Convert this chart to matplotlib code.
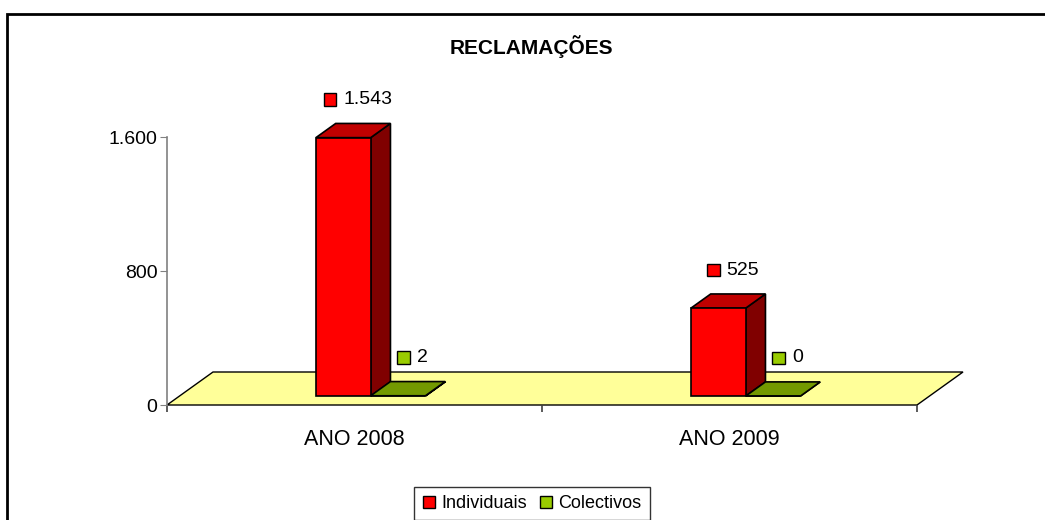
import matplotlib
matplotlib.use("Agg")
import matplotlib.pyplot as plt
from matplotlib.patches import Polygon, Rectangle
from matplotlib.lines import Line2D
from matplotlib.ticker import FuncFormatter
from matplotlib.offsetbox import AnnotationBbox, DrawingArea, TextArea, HPacker

plt.rcParams['font.family'] = ['Liberation Sans', 'DejaVu Sans']

# data
categories = ["ANO 2008", "ANO 2009"]
series_names = ["Individuais", "Colectivos"]
individuais = [1543, 525]
colectivos = [2, 0]
y_ticks = [0, 800, 1600]

front_colors = ["#FF0000", "#99CC00"]
top_colors = ["#C00000", "#739900"]
side_colors = ["#800000", "#4D6600"]

W, H = 1045, 520
fig = plt.figure(figsize=(W / 100, H / 100), dpi=100)

# axes frame (pixels of the reference)
x0, x1, y0, y1 = 167, 917, 405, 137
ax = fig.add_axes([x0 / W, 1 - y0 / H, (x1 - x0) / W, (y0 - y1) / H])
ax.set_xlim(0, len(categories))
ax.set_ylim(0, 1600)

# pixel -> data scale, used for the oblique 3d depth
px_x = len(categories) / (x1 - x0)
px_y = 1600 / (y0 - y1)
depth = (46 * px_x, 33 * px_y)   # full floor depth

def shift(p, d):
    return (p[0] + depth[0] * d, p[1] + depth[1] * d)

# floor
floor = [(0, 0), (2, 0), shift((2, 0), 1), shift((0, 0), 1)]
ax.add_patch(Polygon(floor, closed=True, facecolor="#FFFF99", edgecolor="black",
                     lw=1, clip_on=False, zorder=1))

bar_w = 0.146
d_front, d_back = 0.27, 0.70

def box(xl, val, i):
    xr = xl + bar_w
    fb = [shift(p, d_front) for p in [(xl, 0), (xr, 0), (xr, val), (xl, val)]]
    top = [shift((xl, val), d_front), shift((xr, val), d_front),
           shift((xr, val), d_back), shift((xl, val), d_back)]
    side = [shift((xr, 0), d_front), shift((xr, 0), d_back),
            shift((xr, val), d_back), shift((xr, val), d_front)]
    kw = dict(closed=True, edgecolor="black", lw=1.2, clip_on=False, zorder=3)
    ax.add_patch(Polygon(side, facecolor=side_colors[i], **kw))
    ax.add_patch(Polygon(top, facecolor=top_colors[i], **kw))
    ax.add_patch(Polygon(fb, facecolor=front_colors[i], **kw))

def label(xc, val, i, text):
    # value label with legend key, centred above the bar top
    anchor = shift((xc, val), (d_front + d_back) / 2)
    key = DrawingArea(10, 10, 0, 0)
    key.add_artist(Rectangle((0.4, 0.4), 9.2, 9.2, facecolor=front_colors[i],
                             edgecolor="black", lw=1))
    txt = TextArea(text, textprops=dict(fontsize=14))
    pack = HPacker(children=[key, txt], sep=4.5, align='center', pad=0)
    ab = AnnotationBbox(pack, anchor, xybox=(4.5, 31), boxcoords='offset pixels',
                        frameon=False, box_alignment=(0.5, 0.5), annotation_clip=False,
                        zorder=5)
    ax.add_artist(ab)

def fmt(v):
    return f"{v:,.0f}".replace(",", ".")

off = 0.01
for k in range(len(categories)):
    box(k + 0.5 - bar_w + off, individuais[k], 0)
    box(k + 0.5 + off, colectivos[k], 1)
    label(k + 0.5 - bar_w / 2 + off, individuais[k], 0, fmt(individuais[k]))
    label(k + 0.5 + bar_w / 2 + off, colectivos[k], 1, fmt(colectivos[k]))

# axes styling
for s in ["top", "right", "bottom"]:
    ax.spines[s].set_visible(False)
ax.spines["left"].set_color("#808080")
ax.spines["left"].set_linewidth(1.2)
ax.set_yticks(y_ticks)
ax.yaxis.set_major_formatter(FuncFormatter(lambda v, p: fmt(v)))
ax.tick_params(axis='y', length=5, color="#808080", labelsize=14, pad=2)
ax.set_xticks([0, 1, 2])
ax.set_xticklabels([])
ax.tick_params(axis='x', length=5, color="#404040", width=1.2)
ax.set_xticks([k + 0.5 for k in range(len(categories))], minor=True)
ax.set_xticklabels(categories, minor=True, fontsize=15.5)
ax.tick_params(axis='x', which='minor', length=0, pad=17)
ax.patch.set_visible(False)

# title
fig.text(531 / W, 1 - 47 / H, "RECLAMAÇÕES", ha='center', va='center',
         fontsize=15, fontweight='bold')

# outer chart border
fig.add_artist(Rectangle((7 / W, -0.1), 1.2, 1 - 14 / H + 0.1, transform=fig.transFigure,
                         fill=False, edgecolor="black", lw=2))

# legend
handles = [Line2D([], [], marker='s', linestyle='none', markersize=8,
                  markerfacecolor=c, markeredgecolor="black") for c in front_colors]
leg = fig.legend(handles, series_names, loc='upper center', ncol=2,
                 bbox_to_anchor=(532 / W, 1 - 487 / H), fontsize=13, frameon=True,
                 fancybox=False, edgecolor="black", handlelength=0.7,
                 handletextpad=0.35, columnspacing=0.7, borderpad=0.45,
                 borderaxespad=0)
leg.get_frame().set_linewidth(1)

fig.savefig("out.png", dpi=100)
